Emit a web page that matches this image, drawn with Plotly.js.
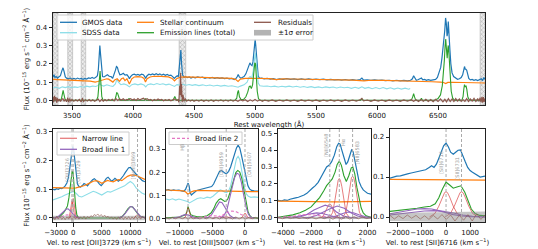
<!DOCTYPE html>
<html><head><meta charset="utf-8">
<script src="https://cdn.plot.ly/plotly-3.0.1.min.js"></script>
<style>html,body{margin:0;padding:0;background:#fff}#chart{width:538px;height:249px}</style>
</head><body><div id="chart"></div>
<script>
// ================= DATA =================
// ---- Top panel: rest wavelength (Angstrom) vs flux ----
const gmosTop = [[3344,0.128],[3352,0.14],[3360,0.125],[3370,0.13],[3380,0.122],[3392,0.128],[3405,0.135],[3416,0.16],[3426,0.178],[3434,0.16],[3445,0.128],[3458,0.12],[3470,0.118],[3485,0.122],[3500,0.115],[3515,0.12],[3530,0.116],[3545,0.122],[3560,0.117],[3575,0.12],[3590,0.115],[3605,0.12],[3620,0.117],[3635,0.123],[3650,0.12],[3665,0.125],[3680,0.12],[3695,0.126],[3708,0.135],[3716,0.17],[3722,0.24],[3728,0.3],[3734,0.25],[3741,0.17],[3750,0.13],[3762,0.128],[3775,0.135],[3790,0.14],[3805,0.132],[3820,0.13],[3833,0.12],[3845,0.14],[3856,0.165],[3864,0.185],[3872,0.18],[3880,0.16],[3892,0.14],[3905,0.142],[3920,0.148],[3935,0.138],[3950,0.14],[3962,0.13],[3970,0.118],[3980,0.13],[3995,0.14],[4010,0.143],[4025,0.138],[4040,0.142],[4055,0.137],[4070,0.143],[4085,0.14],[4096,0.13],[4104,0.122],[4115,0.135],[4130,0.143],[4145,0.14],[4160,0.145],[4175,0.14],[4190,0.146],[4205,0.14],[4220,0.145],[4235,0.138],[4250,0.143],[4265,0.137],[4280,0.142],[4295,0.136],[4310,0.138],[4325,0.13],[4338,0.12],[4350,0.128],[4362,0.135],[4372,0.13],[4380,0.2],[4386,0.265],[4392,0.275],[4398,0.2],[4406,0.14],[4418,0.125],[4430,0.13],[4445,0.124],[4460,0.128],[4475,0.122],[4490,0.127],[4510,0.123],[4530,0.128],[4550,0.124],[4570,0.127],[4590,0.121],[4610,0.125],[4630,0.122],[4650,0.126],[4670,0.12],[4690,0.124],[4710,0.12],[4730,0.123],[4750,0.119],[4770,0.122],[4790,0.118],[4810,0.12],[4830,0.114],[4845,0.12],[4855,0.13],[4862,0.142],[4870,0.13],[4882,0.122],[4895,0.125],[4910,0.13],[4925,0.145],[4940,0.175],[4950,0.2],[4958,0.205],[4966,0.195],[4975,0.19],[4983,0.21],[4990,0.26],[4996,0.31],[5001,0.333],[5006,0.3],[5012,0.23],[5018,0.17],[5026,0.132],[5038,0.12],[5055,0.122],[5075,0.118],[5100,0.12],[5125,0.116],[5150,0.119],[5175,0.114],[5200,0.118],[5230,0.115],[5260,0.119],[5290,0.115],[5320,0.118],[5350,0.114],[5380,0.117],[5410,0.113],[5440,0.117],[5470,0.114],[5500,0.116],[5530,0.113],[5560,0.116],[5590,0.112],[5620,0.115],[5650,0.112],[5680,0.114],[5710,0.111],[5740,0.114],[5770,0.11],[5800,0.113],[5830,0.11],[5860,0.113],[5876,0.122],[5890,0.111],[5920,0.112],[5950,0.109],[5980,0.112],[6010,0.109],[6040,0.111],[6070,0.108],[6100,0.11],[6130,0.107],[6160,0.11],[6190,0.107],[6220,0.109],[6250,0.107],[6275,0.11],[6290,0.118],[6300,0.135],[6310,0.12],[6322,0.11],[6335,0.113],[6350,0.118],[6364,0.122],[6375,0.112],[6390,0.115],[6405,0.11],[6420,0.113],[6440,0.109],[6460,0.112],[6480,0.115],[6495,0.125],[6510,0.15],[6522,0.18],[6532,0.23],[6540,0.28],[6548,0.31],[6555,0.38],[6562,0.45],[6568,0.42],[6574,0.35],[6579,0.37],[6584,0.43],[6590,0.38],[6597,0.28],[6605,0.2],[6615,0.15],[6628,0.13],[6645,0.12],[6660,0.115],[6675,0.118],[6690,0.125],[6702,0.14],[6710,0.165],[6717,0.185],[6723,0.17],[6729,0.17],[6735,0.165],[6742,0.14],[6752,0.12],[6765,0.112],[6780,0.115],[6795,0.11],[6810,0.113],[6825,0.108],[6840,0.112],[6855,0.118],[6866,0.108],[6875,0.125],[6885,0.115]];
const sdssTop = [[3344,0.068],[3370,0.072],[3395,0.066],[3420,0.074],[3445,0.07],[3470,0.075],[3495,0.069],[3520,0.074],[3545,0.071],[3570,0.076],[3595,0.072],[3620,0.078],[3645,0.074],[3670,0.079],[3695,0.076],[3715,0.082],[3728,0.092],[3740,0.082],[3760,0.078],[3785,0.085],[3810,0.08],[3835,0.076],[3855,0.09],[3868,0.115],[3880,0.1],[3900,0.086],[3925,0.09],[3950,0.084],[3970,0.074],[3990,0.086],[4015,0.09],[4040,0.085],[4065,0.09],[4090,0.084],[4104,0.074],[4120,0.086],[4145,0.09],[4170,0.086],[4195,0.092],[4220,0.087],[4245,0.091],[4270,0.085],[4295,0.089],[4320,0.084],[4340,0.076],[4360,0.086],[4385,0.084],[4410,0.088],[4435,0.083],[4460,0.087],[4485,0.082],[4510,0.086],[4540,0.081],[4570,0.085],[4600,0.08],[4630,0.084],[4660,0.079],[4690,0.083],[4720,0.078],[4750,0.082],[4780,0.077],[4810,0.08],[4840,0.074],[4861,0.072],[4880,0.078],[4910,0.085],[4935,0.1],[4950,0.125],[4960,0.13],[4972,0.12],[4985,0.16],[4995,0.23],[5002,0.26],[5008,0.22],[5016,0.14],[5026,0.095],[5040,0.08],[5070,0.077],[5100,0.079],[5130,0.075],[5160,0.078],[5190,0.073],[5220,0.077],[5250,0.074],[5280,0.078],[5310,0.073],[5340,0.077],[5370,0.072],[5400,0.076],[5430,0.071],[5460,0.075],[5490,0.07],[5520,0.074],[5550,0.069],[5580,0.074],[5610,0.07],[5640,0.073],[5670,0.068],[5700,0.073],[5730,0.069],[5760,0.072],[5790,0.066],[5820,0.072],[5850,0.066],[5876,0.074],[5900,0.066],[5930,0.071],[5960,0.064],[5990,0.07],[6020,0.064],[6050,0.07],[6080,0.063],[6110,0.069],[6140,0.062],[6170,0.068],[6200,0.062],[6230,0.067],[6260,0.061],[6272,0.065]];
const stellarTop = [[3344,0.115],[3400,0.114],[3450,0.112],[3500,0.11],[3550,0.109],[3600,0.107],[3650,0.105],[3690,0.1],[3710,0.103],[3735,0.108],[3760,0.115],[3785,0.118],[3800,0.116],[3815,0.11],[3835,0.1],[3850,0.112],[3870,0.118],[3889,0.104],[3905,0.118],[3920,0.122],[3934,0.108],[3950,0.118],[3970,0.09],[3990,0.118],[4010,0.128],[4040,0.13],[4070,0.128],[4090,0.12],[4102,0.1],[4115,0.118],[4140,0.128],[4170,0.132],[4200,0.133],[4230,0.131],[4260,0.13],[4290,0.128],[4320,0.12],[4340,0.106],[4360,0.12],[4390,0.127],[4430,0.128],[4470,0.127],[4520,0.126],[4580,0.125],[4640,0.124],[4700,0.123],[4760,0.122],[4810,0.12],[4840,0.115],[4861,0.104],[4880,0.116],[4920,0.12],[4980,0.121],[5050,0.12],[5120,0.119],[5175,0.114],[5230,0.118],[5300,0.117],[5400,0.116],[5500,0.115],[5600,0.114],[5700,0.113],[5800,0.111],[5893,0.107],[5950,0.11],[6050,0.109],[6150,0.108],[6250,0.106],[6350,0.104],[6450,0.102],[6520,0.1],[6545,0.098],[6563,0.092],[6580,0.098],[6620,0.099],[6700,0.097],[6800,0.096],[6885,0.095]];
const emissionTop = [[3344,0],[3405,0],[3414,0.012],[3421,0.04],[3427,0.055],[3433,0.035],[3442,0.008],[3452,0],[3700,0],[3712,0.02],[3719,0.08],[3725,0.15],[3730,0.16],[3736,0.1],[3744,0.02],[3755,0],[3850,0],[3859,0.02],[3866,0.042],[3873,0.04],[3882,0.015],[3892,0],[3960,0],[3967,0.012],[3975,0],[4095,0],[4102,0.01],[4110,0],[4328,0],[4336,0.012],[4342,0.022],[4350,0.01],[4358,0],[4835,0],[4850,0.012],[4858,0.045],[4864,0.055],[4872,0.02],[4885,0.005],[4905,0.005],[4925,0.02],[4940,0.045],[4952,0.075],[4960,0.078],[4970,0.065],[4980,0.085],[4990,0.16],[4998,0.205],[5004,0.2],[5010,0.13],[5018,0.05],[5028,0.01],[5040,0],[5865,0],[5876,0.008],[5887,0],[6280,0],[6292,0.018],[6300,0.037],[6308,0.018],[6318,0],[6355,0],[6364,0.012],[6373,0],[6470,0],[6500,0.01],[6520,0.03],[6535,0.08],[6545,0.15],[6552,0.22],[6558,0.3],[6563,0.335],[6569,0.28],[6575,0.23],[6580,0.28],[6584,0.3],[6590,0.25],[6598,0.13],[6608,0.05],[6620,0.012],[6635,0],[6695,0],[6705,0.02],[6712,0.065],[6717,0.086],[6723,0.075],[6730,0.078],[6736,0.06],[6744,0.02],[6755,0.004],[6770,0],[6885,0]];
const residTop = [[3344,0.02],[3350,-0.01],[3356,0.025],[3362,0.0],[3368,0.018],[3374,-0.012],[3380,0.012],[3386,-0.004],[3395,0.008],[3405,-0.006],[3415,0.004],[3425,0.01],[3435,-0.005],[3445,0.006],[3455,-0.008],[3465,0.015],[3472,-0.01],[3480,0.01],[3490,-0.004],[3500,0.006],[3515,-0.005],[3530,0.004],[3545,-0.003],[3560,0.006],[3575,-0.008],[3585,0.012],[3595,-0.006],[3610,0.004],[3625,-0.004],[3640,0.005],[3655,-0.003],[3670,0.004],[3685,-0.005],[3700,0.003],[3715,0.008],[3728,-0.006],[3742,0.006],[3756,-0.004],[3770,0.005],[3785,-0.002],[3800,0.006],[3815,0.0],[3830,0.007],[3845,-0.003],[3860,0.01],[3875,0.0],[3890,0.008],[3905,0.002],[3920,0.009],[3935,0.0],[3950,0.006],[3965,0.004],[3980,0.01],[3995,0.002],[4010,0.008],[4025,0.0],[4040,0.01],[4055,0.003],[4070,0.008],[4085,0.012],[4100,0.004],[4115,0.01],[4130,0.002],[4145,0.006],[4160,-0.002],[4175,0.005],[4190,0.0],[4205,0.008],[4220,0.002],[4235,0.006],[4250,-0.002],[4265,0.004],[4280,0.0],[4295,0.005],[4310,-0.002],[4325,0.004],[4340,0.008],[4355,0.0],[4368,0.005],[4376,-0.01],[4382,0.08],[4386,0.03],[4390,0.15],[4394,0.02],[4398,0.09],[4403,-0.01],[4410,0.03],[4418,-0.005],[4428,0.01],[4440,-0.004],[4455,0.003],[4470,-0.004],[4485,0.003],[4500,-0.005],[4520,0.002],[4540,-0.004],[4560,0.003],[4580,-0.005],[4600,0.002],[4620,-0.004],[4640,0.003],[4660,-0.005],[4680,0.002],[4700,-0.003],[4720,0.003],[4740,-0.004],[4760,0.002],[4780,-0.004],[4800,0.003],[4820,-0.004],[4840,0.002],[4860,-0.005],[4880,0.004],[4900,-0.003],[4920,0.004],[4940,-0.006],[4960,0.003],[4980,-0.004],[5000,0.006],[5020,-0.004],[5040,0.003],[5060,-0.005],[5080,0.002],[5110,-0.004],[5140,0.003],[5170,-0.005],[5200,0.002],[5230,-0.004],[5260,0.003],[5290,-0.004],[5320,0.002],[5350,-0.005],[5380,0.003],[5410,-0.004],[5440,0.002],[5470,-0.004],[5500,0.003],[5530,-0.005],[5560,0.002],[5590,-0.004],[5620,0.003],[5650,-0.004],[5680,0.002],[5710,-0.005],[5740,0.003],[5770,-0.004],[5800,0.002],[5830,-0.004],[5860,0.003],[5876,0.012],[5890,-0.003],[5920,0.002],[5950,-0.005],[5980,0.003],[6010,-0.004],[6040,0.002],[6070,-0.005],[6100,0.003],[6130,-0.004],[6160,0.002],[6190,-0.005],[6220,0.003],[6250,-0.004],[6280,0.004],[6300,-0.005],[6320,0.004],[6340,-0.006],[6360,0.005],[6380,-0.005],[6400,0.006],[6420,-0.006],[6440,0.005],[6460,-0.007],[6480,0.006],[6500,-0.006],[6520,0.008],[6540,-0.008],[6556,0.006],[6570,-0.008],[6585,0.01],[6600,-0.006],[6615,0.008],[6630,-0.006],[6645,0.01],[6660,-0.004],[6675,0.008],[6690,-0.006],[6705,0.004],[6720,-0.005],[6735,0.01],[6750,-0.006],[6765,0.008],[6780,-0.004],[6795,0.012],[6810,-0.006],[6825,0.01],[6835,-0.004],[6845,0.015],[6852,-0.01],[6860,0.02],[6866,-0.012],[6872,0.018],[6878,-0.008],[6885,0.01]];
const errTop = [[3344,0.012],[3400,0.006],[3600,0.004],[4000,0.003],[4500,0.003],[5000,0.003],[5500,0.003],[6000,0.003],[6500,0.004],[6800,0.006],[6885,0.01]];
const maskStart = [3344,3465,3575,4378,6845];
const maskEnd   = [3385,3505,3612,4432,6885];
const topXTicks = [3500,4000,4500,5000,5500,6000,6500];
const topYTicks = [0,0.1,0.2,0.3,0.4];

// ---- Panel 1: velocity relative to [OII]3729 ----
const p1Data = [[-3530,0.1],[-3200,0.098],[-2900,0.102],[-2600,0.1],[-2300,0.104],[-2000,0.102],[-1700,0.106],[-1400,0.112],[-1100,0.122],[-850,0.14],[-650,0.165],[-450,0.2],[-250,0.235],[-80,0.252],[100,0.235],[300,0.19],[500,0.145],[750,0.118],[1000,0.11],[1300,0.108],[1600,0.113],[1900,0.12],[2200,0.117],[2500,0.112],[2800,0.12],[3100,0.128],[3400,0.133],[3700,0.137],[4000,0.133],[4300,0.126],[4600,0.118],[4900,0.113],[5200,0.12],[5500,0.13],[5800,0.138],[6100,0.142],[6400,0.135],[6700,0.128],[7000,0.132],[7300,0.138],[7600,0.133],[7900,0.128],[8200,0.133],[8500,0.14],[8800,0.148],[9100,0.158],[9400,0.168],[9700,0.175],[10000,0.176],[10300,0.17],[10600,0.162],[10900,0.155],[11200,0.148],[11500,0.142],[11800,0.136],[12100,0.13],[12560,0.126]];
const p1Sdss = [[-3530,0.063],[-3000,0.066],[-2500,0.07],[-2000,0.074],[-1500,0.079],[-1000,0.083],[-500,0.088],[0,0.092],[500,0.086],[1000,0.076],[1500,0.073],[2000,0.078],[2500,0.082],[3000,0.087],[3500,0.093],[4000,0.09],[4500,0.084],[5000,0.08],[5500,0.086],[6000,0.092],[6500,0.09],[7000,0.094],[7500,0.098],[8000,0.102],[8500,0.106],[9000,0.112],[9500,0.12],[10000,0.127],[10500,0.12],[11000,0.105],[11500,0.095],[12000,0.087],[12560,0.082]];
const p1Stellar = [[-3530,0.106],[-2500,0.105],[-1500,0.104],[-500,0.104],[0,0.104],[500,0.105],[1000,0.107],[1500,0.11],[2000,0.113],[2500,0.118],[3000,0.124],[3500,0.128],[4000,0.13],[4500,0.127],[5000,0.121],[5500,0.126],[6000,0.131],[6500,0.128],[7000,0.126],[7500,0.131],[8000,0.134],[8500,0.13],[9000,0.138],[9500,0.145],[10000,0.149],[10500,0.15],[11000,0.148],[11500,0.143],[12000,0.138],[12560,0.134]];
const p1Total = [[-3530,0],[-2800,0.002],[-2200,0.008],[-1700,0.018],[-1300,0.03],[-1000,0.042],[-750,0.07],[-550,0.11],[-350,0.145],[-180,0.163],[-30,0.16],[120,0.13],[280,0.08],[450,0.035],[650,0.01],[900,0.002],[1300,0],[8000,0],[8600,0.006],[9100,0.018],[9600,0.033],[10000,0.04],[10400,0.038],[10800,0.028],[11300,0.014],[11800,0.005],[12560,0.001]];
const p1Narrow = [
  [[-900,0],[-700,0.005],[-550,0.018],[-400,0.04],[-300,0.055],[-220,0.06],[-140,0.055],[-40,0.04],[110,0.018],[260,0.005],[460,0]],
  [[-700,0],[-480,0.005],[-330,0.02],[-180,0.045],[-80,0.062],[0,0.068],[80,0.062],[180,0.045],[330,0.02],[480,0.005],[700,0]],
  [[10600,0],[10850,0.003],[11000,0.008],[11150,0.012],[11251,0.013],[11350,0.012],[11500,0.008],[11650,0.003],[11900,0]]
];
const p1Broad1 = [
  [[-3530,0],[-3000,0.002],[-2500,0.007],[-2000,0.016],[-1600,0.025],[-1200,0.031],[-900,0.032],[-600,0.028],[-300,0.021],[0,0.013],[300,0.007],[700,0.002],[1200,0]],
  [[8000,0],[8600,0.005],[9100,0.016],[9600,0.032],[10000,0.04],[10400,0.038],[10800,0.028],[11300,0.014],[11800,0.005],[12560,0.001]]
];
const p1Broad2 = [
  [[-3000,0],[-2200,0.003],[-1600,0.008],[-1100,0.011],[-600,0.01],[-100,0.006],[400,0.002],[1000,0]]
];
const p1Resid = [[-3530,0.004],[-3200,-0.006],[-2900,0.006],[-2600,-0.004],[-2300,0.005],[-2000,-0.005],[-1700,0.003],[-1400,-0.006],[-1100,0.004],[-800,-0.004],[-500,0.006],[-200,-0.008],[100,0.006],[400,-0.004],[700,0.005],[1000,-0.004],[1300,0.004],[1600,-0.003],[1900,0.006],[2200,-0.004],[2500,0.005],[2800,0.0],[3100,0.008],[3400,0.004],[3700,0.012],[4000,0.008],[4300,0.014],[4600,0.006],[4900,0.012],[5200,0.004],[5500,0.01],[5800,0.002],[6100,0.006],[6400,-0.002],[6700,0.004],[7000,-0.004],[7300,0.003],[7600,-0.005],[7900,0.004],[8200,-0.004],[8500,0.003],[8800,-0.005],[9100,0.004],[9400,-0.004],[9700,0.005],[10000,-0.005],[10300,0.004],[10600,-0.004],[10900,0.006],[11200,-0.003],[11500,0.005],[11800,-0.004],[12100,0.005],[12560,-0.002]];
const p1Err = [[-3530,0.008],[0,0.007],[5000,0.007],[12560,0.008]];
const p1LineVel = [-220, 0, 11251];
const p1LineNames = ['[OII]3726','[OII]3729','[NeIII]3869'];

// ---- Panel 2: velocity relative to [OIII]5007 ----
const p2Data = [[-12080,0.121],[-11700,0.124],[-11300,0.119],[-10900,0.123],[-10500,0.12],[-10100,0.122],[-9700,0.118],[-9400,0.116],[-9100,0.124],[-8900,0.138],[-8700,0.152],[-8550,0.14],[-8400,0.112],[-8200,0.1],[-8000,0.106],[-7700,0.115],[-7400,0.12],[-7000,0.123],[-6600,0.126],[-6200,0.128],[-5800,0.13],[-5400,0.133],[-5100,0.137],[-4800,0.148],[-4500,0.165],[-4200,0.188],[-3900,0.203],[-3600,0.207],[-3300,0.2],[-3000,0.194],[-2750,0.195],[-2500,0.203],[-2200,0.222],[-1900,0.25],[-1600,0.278],[-1300,0.305],[-1050,0.317],[-800,0.305],[-550,0.275],[-300,0.24],[-50,0.2],[200,0.165],[450,0.14],[700,0.127],[1000,0.12],[1400,0.118],[1990,0.117]];
const p2Sdss = [[-12080,0.083],[-11600,0.079],[-11100,0.084],[-10600,0.078],[-10100,0.083],[-9600,0.079],[-9200,0.075],[-8800,0.072],[-8500,0.066],[-8200,0.07],[-7800,0.078],[-7300,0.085],[-6800,0.088],[-6300,0.085],[-5800,0.091],[-5300,0.088],[-4900,0.095],[-4500,0.105],[-4100,0.118],[-3800,0.123],[-3500,0.12],[-3100,0.112],[-2800,0.11],[-2500,0.118],[-2200,0.14],[-1900,0.18],[-1600,0.225],[-1300,0.258],[-1050,0.268],[-800,0.255],[-550,0.215],[-300,0.17],[-50,0.13],[200,0.105],[500,0.095],[900,0.09],[1400,0.092],[1990,0.09]];
const p2Stellar = [[-12080,0.122],[-11000,0.121],[-10000,0.12],[-9400,0.118],[-9000,0.112],[-8750,0.104],[-8500,0.108],[-8200,0.114],[-7800,0.118],[-7000,0.12],[-6000,0.119],[-5000,0.118],[-4000,0.118],[-3000,0.117],[-2000,0.117],[-1000,0.116],[0,0.116],[1000,0.115],[1990,0.115]];
const p2Total = [[-12080,0.001],[-11000,0.002],[-10000,0.005],[-9500,0.01],[-9100,0.014],[-8850,0.03],[-8713,0.05],[-8550,0.035],[-8300,0.015],[-7900,0.01],[-7300,0.006],[-6500,0.006],[-5800,0.01],[-5200,0.022],[-4800,0.04],[-4400,0.065],[-4000,0.08],[-3700,0.084],[-3400,0.078],[-3100,0.072],[-2870,0.074],[-2600,0.085],[-2300,0.11],[-2000,0.14],[-1700,0.175],[-1400,0.198],[-1100,0.207],[-800,0.2],[-500,0.175],[-250,0.14],[0,0.105],[200,0.065],[450,0.03],[700,0.012],[1000,0.004],[1500,0.001],[1990,0]];
const p2Narrow = [
  [[-9400,0],[-9150,0.004],[-9000,0.014],[-8870,0.03],[-8780,0.042],[-8713,0.045],[-8640,0.042],[-8550,0.03],[-8420,0.014],[-8280,0.004],[-8030,0]],
  [[-3500,0],[-3250,0.002],[-3100,0.005],[-2970,0.008],[-2870,0.009],[-2770,0.008],[-2640,0.005],[-2490,0.002],[-2240,0]],
  [[-650,0],[-400,0.004],[-250,0.012],[-120,0.019],[0,0.022],[120,0.019],[250,0.012],[400,0.004],[650,0]]
];
const p2Broad1 = [
  [[-11000,0],[-10500,0.002],[-10000,0.006],[-9600,0.011],[-9200,0.015],[-8800,0.014],[-8400,0.01],[-8000,0.005],[-7500,0.001],[-7000,0]],
  [[-6200,0],[-5600,0.004],[-5100,0.015],[-4700,0.034],[-4300,0.056],[-3900,0.07],[-3500,0.067],[-3100,0.05],[-2700,0.028],[-2300,0.011],[-1800,0.002],[-1300,0]],
  [[-3800,0],[-3300,0.008],[-2800,0.032],[-2400,0.075],[-2000,0.128],[-1600,0.175],[-1250,0.195],[-900,0.19],[-550,0.155],[-200,0.1],[150,0.05],[500,0.018],[900,0.004],[1400,0]]
];
const p2Broad2 = [
  [[-7800,0],[-7000,0.002],[-6200,0.006],[-5500,0.01],[-4800,0.011],[-4100,0.009],[-3400,0.005],[-2700,0.002],[-2000,0]],
  [[-5000,0],[-4200,0.004],[-3400,0.013],[-2700,0.024],[-2000,0.031],[-1300,0.027],[-600,0.016],[100,0.006],[800,0.001],[1500,0]]
];
const p2Resid = [[-12080,0.003],[-11600,-0.004],[-11100,0.003],[-10600,-0.003],[-10100,0.004],[-9600,-0.003],[-9100,0.004],[-8700,-0.005],[-8300,0.004],[-7900,-0.003],[-7400,0.003],[-6900,-0.004],[-6400,0.003],[-5900,-0.003],[-5400,0.004],[-4900,-0.003],[-4400,0.003],[-3900,-0.004],[-3400,0.004],[-2900,-0.003],[-2400,0.004],[-1900,-0.004],[-1400,0.005],[-900,-0.004],[-400,0.004],[100,-0.004],[600,0.003],[1100,-0.003],[1600,0.003],[1990,-0.002]];
const p2Err = [[-12080,0.005],[1990,0.005]];
const p2LineVel = [-8713, -2870, 0];
const p2LineNames = ['H\u03b2','[OIII]4959','[OIII]5007'];

// ---- Panel 3: velocity relative to H-alpha ----
const p3Data = [[-4350,0.104],[-4100,0.1],[-3900,0.106],[-3700,0.103],[-3500,0.11],[-3300,0.112],[-3100,0.118],[-2900,0.122],[-2700,0.128],[-2500,0.135],[-2300,0.145],[-2100,0.158],[-1900,0.176],[-1700,0.19],[-1500,0.21],[-1300,0.24],[-1100,0.275],[-900,0.3],[-730,0.31],[-550,0.33],[-350,0.37],[-180,0.42],[-50,0.44],[60,0.435],[180,0.4],[330,0.35],[480,0.315],[600,0.33],[730,0.37],[870,0.4],[980,0.39],[1100,0.34],[1250,0.27],[1400,0.215],[1550,0.185],[1700,0.165],[1850,0.155],[2000,0.145],[2250,0.14]];
const p3Stellar = [[-4350,0.099],[-3500,0.099],[-2500,0.099],[-1500,0.098],[-800,0.097],[-400,0.095],[0,0.094],[400,0.095],[800,0.097],[1500,0.098],[2250,0.098]];
const p3Total = [[-4350,0.003],[-3800,0.01],[-3300,0.018],[-2800,0.03],[-2400,0.045],[-2000,0.065],[-1700,0.09],[-1400,0.12],[-1100,0.16],[-900,0.19],[-700,0.21],[-500,0.23],[-300,0.27],[-150,0.315],[0,0.335],[150,0.31],[320,0.25],[500,0.215],[680,0.25],[850,0.295],[960,0.3],[1100,0.26],[1250,0.18],[1400,0.11],[1550,0.06],[1700,0.03],[1900,0.012],[2250,0.003]];
const p3Narrow = [
  [[-1400,0],[-1150,0.01],[-1000,0.035],[-850,0.063],[-750,0.079],[-674,0.082],[-600,0.079],[-500,0.063],[-350,0.035],[-200,0.01],[50,0]],
  [[-730,0],[-480,0.03],[-330,0.095],[-180,0.185],[-80,0.222],[0,0.232],[80,0.222],[180,0.185],[330,0.095],[480,0.03],[730,0]],
  [[210,0],[460,0.032],[610,0.1],[760,0.196],[860,0.236],[944,0.246],[1030,0.236],[1130,0.196],[1280,0.1],[1430,0.032],[1680,0]]
];
const p3Broad1 = [
  [[-3300,0],[-2800,0.006],[-2300,0.02],[-1800,0.047],[-1400,0.062],[-1000,0.075],[-600,0.065],[-200,0.035],[300,0.011],[800,0.002],[1300,0]],
  [[-2600,0],[-2100,0.003],[-1600,0.016],[-1100,0.037],[-650,0.054],[-150,0.07],[350,0.057],[850,0.029],[1300,0.011],[1800,0.002],[2250,0]],
  [[-4000,0],[-3500,0.003],[-3000,0.008],[-2500,0.017],[-2000,0.026],[-1600,0.03],[-1200,0.026],[-700,0.013],[-200,0.004],[400,0]],
  [[-1200,0],[-700,0.004],[-300,0.009],[100,0.022],[400,0.031],[700,0.035],[1000,0.031],[1400,0.019],[1800,0.008],[2250,0.002]]
];
const p3Broad2 = [
  [[-4350,0.002],[-3800,0.005],[-3300,0.01],[-2800,0.017],[-2300,0.02],[-1800,0.017],[-1300,0.011],[-800,0.005],[-300,0.002],[200,0]]
];
const p3Resid = [[-4350,0.004],[-4050,-0.005],[-3750,0.004],[-3450,-0.004],[-3150,0.005],[-2850,-0.004],[-2550,0.003],[-2250,-0.005],[-1950,0.004],[-1650,-0.006],[-1350,0.005],[-1050,-0.004],[-750,0.006],[-450,-0.008],[-150,0.007],[150,-0.008],[450,0.006],[750,-0.007],[1050,0.008],[1350,-0.005],[1650,0.006],[1950,-0.004],[2250,0.004]];
const p3Err = [[-4350,0.007],[2250,0.007]];
const p3LineVel = [-674, 0, 944];
const p3LineNames = ['[NII]6548','H\u03b1','[NII]6583'];

// ---- Panel 4: velocity relative to [SII]6716 ----
const p4Data = [[-2330,0.097],[-2200,0.1],[-2050,0.102],[-1900,0.103],[-1750,0.106],[-1600,0.108],[-1450,0.11],[-1300,0.112],[-1150,0.113],[-1000,0.115],[-850,0.118],[-700,0.124],[-600,0.128],[-500,0.124],[-400,0.132],[-300,0.147],[-200,0.165],[-100,0.178],[0,0.185],[100,0.175],[190,0.162],[300,0.157],[400,0.162],[500,0.167],[600,0.168],[700,0.155],[800,0.138],[900,0.124],[1000,0.116],[1100,0.112],[1200,0.108],[1300,0.104],[1420,0.1],[1620,0.102]];
const p4Stellar = [[-2330,0.094],[-1500,0.094],[-500,0.093],[500,0.093],[1620,0.092]];
const p4Total = [[-2330,0.014],[-2000,0.016],[-1600,0.019],[-1200,0.022],[-900,0.025],[-650,0.027],[-450,0.033],[-300,0.048],[-150,0.07],[0,0.087],[150,0.08],[300,0.072],[450,0.075],[620,0.078],[780,0.062],[920,0.038],[1050,0.02],[1200,0.009],[1400,0.004],[1620,0.003]];
const p4Narrow = [
  [[-690,0],[-460,0.009],[-300,0.027],[-150,0.05],[-60,0.061],[0,0.063],[60,0.061],[150,0.05],[300,0.027],[460,0.009],[690,0]],
  [[-47,0],[183,0.009],[343,0.027],[493,0.05],[583,0.061],[643,0.063],[703,0.061],[793,0.05],[943,0.027],[1103,0.009],[1333,0]]
];
const p4Broad1 = [
  [[-2330,0.008],[-2000,0.012],[-1600,0.017],[-1200,0.02],[-900,0.021],[-600,0.02],[-300,0.016],[0,0.011],[300,0.006],[600,0.003],[1000,0.001],[1620,0]],
  [[-2330,0.005],[-1900,0.008],[-1400,0.012],[-900,0.015],[-500,0.016],[-100,0.014],[300,0.01],[700,0.005],[1100,0.002],[1620,0]]
];
const p4Resid = [[-2330,0.004],[-2150,-0.005],[-1970,0.003],[-1790,-0.004],[-1610,0.005],[-1430,-0.003],[-1250,0.004],[-1070,-0.005],[-890,0.003],[-710,-0.006],[-530,0.004],[-350,-0.005],[-170,0.006],[10,-0.006],[190,0.005],[370,-0.01],[550,0.004],[730,-0.008],[910,0.006],[1090,-0.01],[1270,0.008],[1450,-0.006],[1620,0.005]];
const p4Err = [[-2330,0.01],[0,0.012],[1620,0.014]];
const p4LineVel = [0, 643];
const p4LineNames = ['[SII]6716','[SII]6731'];

// ================= STYLE / LAYOUT =================
const FONT = 'DejaVu Sans';
const C = {gmos:'#1f77b4', sdss:'#8bdde7', stellar:'#ff7f0e', total:'#2ca02c', resid:'#8c564b',
           err:'rgba(128,128,128,0.45)', narrow:'rgba(214,39,40,0.6)', broad1:'#9467bd', broad2:'#e377c2', ref:'#aaaaaa'};
const W = 538, H = 249, M = {l:53, r:53, t:13, b:27};
const PW = W - M.l - M.r, PH = H - M.t - M.b;
const fx = p => (p - M.l) / PW;          // pixel x -> paper
const fy = p => (H - M.b - p) / PH;      // pixel y -> paper

const traces = [];
function addLine(d, xa, ya, color, width, dash, name) {
  traces.push({type:'scatter', mode:'lines', name:name, x:d.map(p=>p[0]), y:d.map(p=>p[1]),
    xaxis:xa, yaxis:ya, line:{color:color, width:width, dash:dash||'solid'}, hoverinfo:'skip', showlegend:false});
}
function addBand(d, xa, ya, color, name) {
  traces.push({type:'scatter', mode:'lines', x:d.map(p=>p[0]), y:d.map(p=>-p[1]), xaxis:xa, yaxis:ya,
    line:{width:0, color:color}, hoverinfo:'skip', showlegend:false});
  traces.push({type:'scatter', mode:'lines', name:name, x:d.map(p=>p[0]), y:d.map(p=>p[1]), xaxis:xa, yaxis:ya,
    line:{width:0, color:color}, fill:'tonexty', fillcolor:color, hoverinfo:'skip', showlegend:false});
}

// Top panel
const yTop = [-0.025, 0.477];
traces.push({type:'bar', x:maskStart.map((s,i)=>(s+maskEnd[i])/2), width:maskStart.map((s,i)=>maskEnd[i]-s),
  base:maskStart.map(()=>yTop[0]), y:maskStart.map(()=>yTop[1]-yTop[0]), xaxis:'x', yaxis:'y',
  marker:{color:'#e6e6e6', line:{width:0.6, color:'#b0b0b0'}, pattern:{shape:'x', fgcolor:'#a8a8a8', bgcolor:'#ececec', size:3, solidity:0.3}},
  hoverinfo:'skip', showlegend:false});
addLine(gmosTop,'x','y',C.gmos,1.2,null,'GMOS data');
addLine(sdssTop,'x','y',C.sdss,1.1,null,'SDSS data');
addLine(stellarTop,'x','y',C.stellar,1.2,null,'Stellar continuum');
addLine(emissionTop,'x','y',C.total,1.1,null,'Emission lines (total)');
addBand(errTop,'x','y',C.err,'\u00b11\u03c3 error');
addLine(residTop,'x','y',C.resid,1.1,null,'Residuals');

// Bottom panels
const panels = [
  {xa:'x2', ya:'y2', data:p1Data, sdss:p1Sdss, st:p1Stellar, tot:p1Total, nar:p1Narrow, b1:p1Broad1, b2:p1Broad2, res:p1Resid, err:p1Err},
  {xa:'x3', ya:'y3', data:p2Data, sdss:p2Sdss, st:p2Stellar, tot:p2Total, nar:p2Narrow, b1:p2Broad1, b2:p2Broad2, res:p2Resid, err:p2Err},
  {xa:'x4', ya:'y4', data:p3Data, sdss:null, st:p3Stellar, tot:p3Total, nar:p3Narrow, b1:p3Broad1, b2:p3Broad2, res:p3Resid, err:p3Err},
  {xa:'x5', ya:'y5', data:p4Data, sdss:null, st:p4Stellar, tot:p4Total, nar:p4Narrow, b1:p4Broad1, b2:[], res:p4Resid, err:p4Err}
];
panels.forEach(P => {
  addLine(P.data, P.xa, P.ya, C.gmos, 1.2, null, 'GMOS data');
  if (P.sdss) addLine(P.sdss, P.xa, P.ya, C.sdss, 1.1, null, 'SDSS data');
  addLine(P.st, P.xa, P.ya, C.stellar, 1.2, null, 'Stellar continuum');
  addLine(P.tot, P.xa, P.ya, C.total, 1.1, null, 'Emission lines (total)');
  P.nar.forEach(d => addLine(d, P.xa, P.ya, C.narrow, 1, null, 'Narrow line'));
  P.b1.forEach(d => addLine(d, P.xa, P.ya, C.broad1, 1.1, null, 'Broad line 1'));
  P.b2.forEach(d => addLine(d, P.xa, P.ya, C.broad2, 1.1, '3px,2px', 'Broad line 2'));
  addBand(P.err, P.xa, P.ya, C.err, '\u00b11\u03c3 error');
  addLine(P.res, P.xa, P.ya, 'rgba(140,86,75,0.6)', 1, null, 'Residuals');
});

const tickFont = {family:FONT, size:7, color:'#111'};
function ax(extra) {
  return Object.assign({showgrid:false, zeroline:false, showline:true, mirror:true, linecolor:'#222', linewidth:1,
    ticks:'outside', ticklen:3.5, tickwidth:1, tickcolor:'#222', tickfont:tickFont, tickangle:0,
    fixedrange:true, automargin:false, title:{text:''}}, extra);
}
const fluxTitle = 'Flux (10<sup>\u221215</sup> erg s<sup>\u22121</sup> cm<sup>\u22122</sup> \u00c5<sup>\u22121</sup>)';
const kms = ' (km s<sup>\u22121</sup>)';
const titleFont = {family:FONT, size:7, color:'#111'};
const botDom = [fy(222), fy(129)];

const layout = {
  width:W, height:H, margin:M, paper_bgcolor:'#fff', plot_bgcolor:'#fff', showlegend:false, barmode:'overlay',
  font:{family:FONT, size:7, color:'#111'},
  xaxis: ax({domain:[0,1], anchor:'y', range:[3344,6885], tickvals:topXTicks, tickformat:'d',
    title:{text:'Rest wavelength (\u00c5)', font:titleFont, standoff:0}}),
  yaxis: ax({domain:[fy(105),1], anchor:'x', range:yTop, tickvals:topYTicks, tickformat:'.1f',
    title:{text:fluxTitle, font:titleFont}}),
  xaxis2: ax({domain:[fx(53),fx(145)], anchor:'y2', range:[-3530,12560], tickvals:[-3000,0,5000,10000], tickformat:'d',
    title:{text:'Vel. to rest [OII]3729'+kms, font:titleFont, standoff:0}}),
  yaxis2: ax({domain:botDom, anchor:'x2', range:[-0.014,0.31], tickvals:[0,0.1,0.2,0.3], tickformat:'.1f',
    title:{text:fluxTitle, font:titleFont}}),
  xaxis3: ax({domain:[fx(166),fx(258)], anchor:'y3', range:[-12080,1990], tickvals:[-10000,-5000,0], tickformat:'d',
    title:{text:'Vel. to rest [OIII]5007'+kms, font:titleFont, standoff:0}}),
  yaxis3: ax({domain:botDom, anchor:'x3', range:[-0.017,0.387], tickvals:[0,0.1,0.2,0.3], tickformat:'.1f'}),
  xaxis4: ax({domain:[fx(278),fx(371)], anchor:'y4', range:[-4350,2250], tickvals:[-4000,-2000,0,2000], tickformat:'d',
    title:{text:'Vel. to rest H\u03b1'+kms, font:titleFont, standoff:0}}),
  yaxis4: ax({domain:botDom, anchor:'x4', range:[-0.024,0.524], tickvals:[0,0.1,0.2,0.3,0.4,0.5], tickformat:'.1f'}),
  xaxis5: ax({domain:[fx(390),1], anchor:'y5', range:[-2330,1620], tickvals:[-2000,-1000,0,1000], tickformat:'d',
    title:{text:'Vel. to rest [SII]6716'+kms, font:titleFont, standoff:0}}),
  yaxis5: ax({domain:botDom, anchor:'x5', range:[-0.0125,0.22], tickvals:[0,0.1,0.2], tickformat:'.1f'}),
  shapes:[], annotations:[]
};

// reference (rest-frame) line markers with rotated labels
function refLines(vels, names, xa, ya, tops, sides) {
  vels.forEach((v,i) => {
    layout.shapes.push({type:'line', xref:xa, yref:ya+' domain', x0:v, x1:v, y0:0, y1:1, layer:'above',
      line:{color:C.ref, width:1, dash:'3px,2px'}});
    layout.annotations.push({x:v, y:tops[i], xref:xa, yref:ya, text:names[i], textangle:-90, showarrow:false,
      xanchor:sides[i], yanchor:'top', xshift: sides[i]==='right' ? -0.5 : 0.5, borderpad:0,
      font:{family:FONT, size:5, color:'#9a9a9a'}});
  });
}
refLines(p1LineVel, p1LineNames, 'x2', 'y2', [0.215,0.205,0.235], ['right','left','right']);
refLines(p2LineVel, p2LineNames, 'x3', 'y3', [0.325,0.292,0.292], ['right','right','left']);
refLines(p3LineVel, p3LineNames, 'x4', 'y4', [0.5,0.475,0.455], ['right','left','left']);
refLines(p4LineVel, p4LineNames, 'x5', 'y5', [0.168,0.152], ['right','right']);

// legends (drawn as boxes, sample lines and text)
function legendBox(x0,x1,y0,y1) {
  layout.shapes.push({type:'rect', xref:'paper', yref:'paper', x0:fx(x0), x1:fx(x1), y0:fy(y1), y1:fy(y0), layer:'above',
    line:{color:'#cccccc', width:1}, fillcolor:'rgba(255,255,255,0.8)'});
}
function legendItem(sx0, sx1, yc, tx, label, color, dash, isPatch) {
  if (isPatch) {
    layout.shapes.push({type:'rect', xref:'paper', yref:'paper', x0:fx(sx0), x1:fx(sx1), y0:fy(yc+2.8), y1:fy(yc-2.8), layer:'above',
      line:{width:0}, fillcolor:'rgba(128,128,128,0.6)'});
  } else {
    layout.shapes.push({type:'line', xref:'paper', yref:'paper', x0:fx(sx0), x1:fx(sx1), y0:fy(yc), y1:fy(yc), layer:'above',
      line:{color:color, width:1.3, dash:dash||'solid'}});
  }
  layout.annotations.push({xref:'paper', yref:'paper', x:fx(tx), y:fy(yc), text:label, showarrow:false,
    xanchor:'left', yanchor:'middle', borderpad:0, font:{family:FONT, size:7.2, color:'#111'}});
}
legendBox(57,313,15,40);
legendItem(60,77,22.3,80.5,'GMOS data',C.gmos);
legendItem(60,77,32.7,80.5,'SDSS data',C.sdss);
legendItem(137,154,22.3,158.5,'Stellar continuum',C.stellar);
legendItem(137,154,32.7,158.5,'Emission lines (total)',C.total);
legendItem(254,271,22.3,276.5,'Residuals',C.resid);
legendItem(254,271,32.7,276.5,'\u00b11\u03c3 error',null,null,true);
legendBox(57,129,132,155);
legendItem(60,77,138.3,80.5,'Narrow line',C.narrow);
legendItem(60,77,149.3,80.5,'Broad line 1',C.broad1);
legendBox(169,242,132,144.5);
legendItem(172,189,138.3,193.5,'Broad line 2',C.broad2,'3px,2px');

Plotly.newPlot('chart', traces, layout, {staticPlot:true, displayModeBar:false});
</script>
</body></html>
